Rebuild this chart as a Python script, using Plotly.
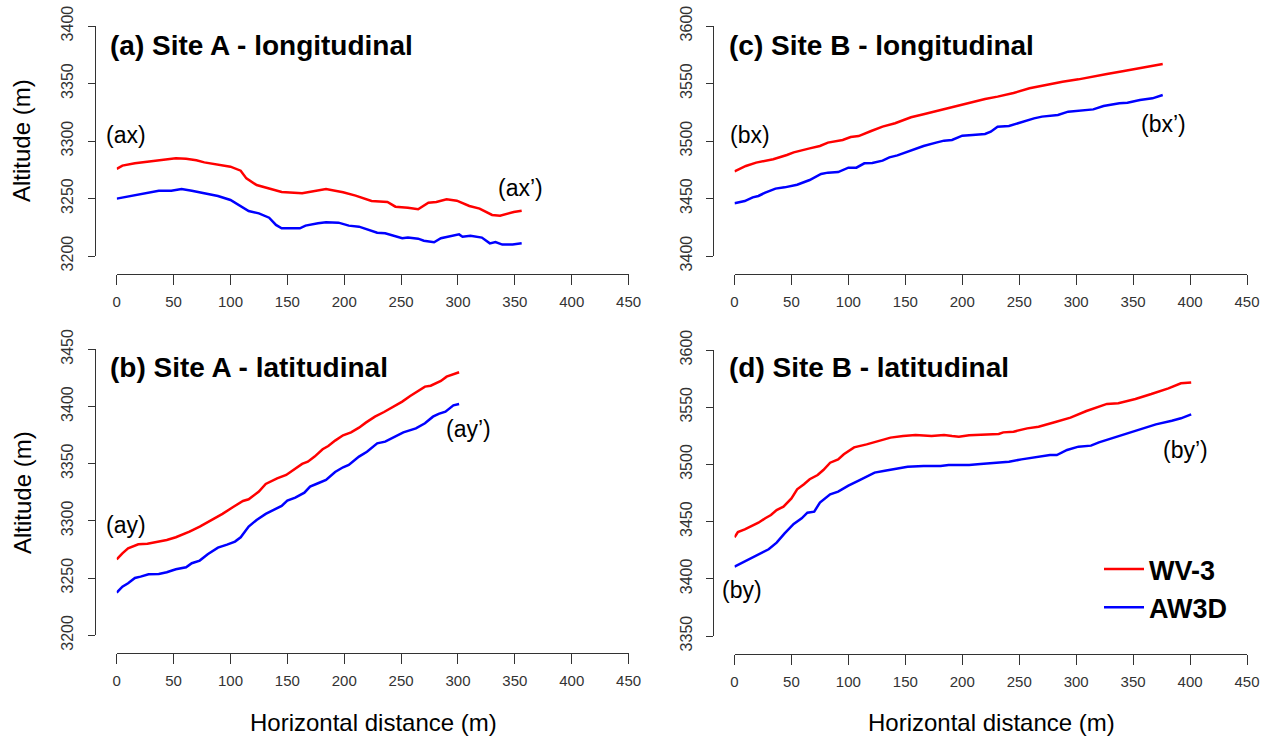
import plotly.graph_objects as go

W, H = 1269, 740

# ---------------- data ----------------
# Panel (a) Site A - longitudinal
a_wv3_x = [0, 5, 16, 27, 41, 52, 61, 70, 77, 91, 100, 109, 114, 123, 134, 145, 163, 174, 184, 199, 210, 224, 238, 245, 256, 265, 274, 281, 290, 299, 310, 319, 330, 337, 344, 349, 356]
a_wv3_y = [3275.7, 3278.6, 3280.6, 3282, 3284, 3285, 3284.6, 3283.2, 3281.4, 3279.4, 3277.7, 3274.2, 3267.5, 3261.7, 3258.8, 3255.7, 3254.5, 3256.2, 3258.3, 3255.4, 3252.5, 3247.8, 3247, 3242.9, 3242, 3240.6, 3246.4, 3247, 3249.3, 3248.1, 3243.5, 3241.2, 3235.7, 3235, 3237.1, 3238.3, 3239.4]
a_aw3d_x = [0, 12, 25, 37, 48, 57, 66, 77, 89, 100, 109, 116, 125, 134, 140, 145, 161, 166, 177, 184, 195, 204, 213, 220, 229, 236, 243, 251, 256, 265, 270, 279, 285, 294, 301, 304, 311, 321, 328, 333, 339, 348, 356]
a_aw3d_y = [3249.9, 3252.2, 3255.1, 3256.8, 3256.8, 3258.3, 3256.8, 3254.5, 3252.2, 3248.7, 3243.5, 3239.1, 3237.1, 3233.3, 3227, 3224.1, 3224.1, 3226.4, 3228.4, 3229.3, 3229, 3226.4, 3225.5, 3223.5, 3220.3, 3219.7, 3217.4, 3215.4, 3216, 3215.1, 3213.3, 3211.9, 3215.4, 3217.4, 3218.8, 3216.8, 3217.7, 3216, 3211, 3212.2, 3209.9, 3209.9, 3211]

# Panel (b) Site A - latitudinal
b_wv3_x = [0, 5, 10, 19, 27, 36, 44, 52, 64, 73, 84, 93, 102, 111, 116, 125, 131, 141, 149, 156, 163, 168, 174, 181, 186, 192, 199, 206, 213, 219, 227, 235, 242, 251, 258, 263, 271, 276, 285, 290, 299, 301]
b_wv3_y = [3266.4, 3271.7, 3276, 3279.5, 3280.1, 3281.9, 3283.3, 3285.7, 3290.6, 3295, 3300.8, 3306.1, 3311.9, 3317.4, 3318.9, 3325.6, 3332.3, 3337.2, 3340.2, 3345.1, 3349.8, 3351.8, 3356.2, 3362.6, 3365.5, 3370.2, 3374.8, 3377.4, 3381.5, 3385.9, 3391.1, 3395.2, 3399.3, 3404.3, 3409.2, 3412.1, 3417.4, 3418.2, 3422.3, 3426.1, 3429.6, 3429.9]
b_aw3d_x = [0, 5, 10, 16, 21, 28, 37, 44, 52, 61, 66, 73, 80, 89, 97, 104, 109, 116, 123, 131, 138, 145, 150, 157, 165, 170, 177, 184, 192, 199, 204, 213, 220, 229, 236, 245, 252, 263, 271, 278, 283, 289, 296, 301]
b_aw3d_y = [3237.3, 3242.5, 3245.5, 3250.1, 3251.3, 3253.3, 3253.6, 3255.1, 3257.7, 3259.4, 3263, 3265.3, 3270.8, 3276.6, 3279.3, 3281.9, 3285.7, 3295, 3300.8, 3306.1, 3309.6, 3313.1, 3317.7, 3320.4, 3324.7, 3330, 3332.9, 3335.8, 3342.8, 3346.9, 3348.9, 3356.2, 3360.5, 3367.8, 3369.3, 3373.7, 3377.4, 3380.9, 3385.3, 3391.1, 3393.5, 3395.5, 3401, 3402.2]

# Panel (c) Site B - longitudinal
c_wv3_x = [0, 10, 19, 34, 46, 52, 66, 75, 82, 95, 102, 109, 120, 130, 141, 155, 166, 181, 195, 206, 220, 231, 245, 259, 274, 288, 302, 313, 327, 342, 360, 376]
c_wv3_y = [3473.6, 3478.3, 3481.2, 3484.1, 3487.8, 3490.1, 3493.6, 3495.7, 3498.6, 3500.9, 3503.5, 3504.3, 3508.7, 3512.5, 3515.4, 3520.6, 3523.2, 3527, 3529.9, 3532.8, 3536.5, 3538.6, 3541.7, 3545.8, 3548.7, 3551.6, 3553.6, 3555.9, 3558.3, 3560.9, 3563.8, 3567]
c_aw3d_x = [0, 9, 16, 21, 27, 36, 44, 55, 66, 76, 82, 91, 100, 107, 114, 121, 130, 136, 143, 152, 159, 166, 177, 184, 191, 200, 209, 220, 225, 231, 241, 252, 263, 270, 284, 293, 302, 315, 324, 338, 345, 356, 367, 376]
c_aw3d_y = [3445.8, 3447.8, 3451, 3452.2, 3455.1, 3458.6, 3459.7, 3462, 3466.1, 3471.3, 3472.5, 3473, 3476.8, 3476.8, 3480.6, 3480.9, 3482.9, 3485.8, 3487.5, 3490.7, 3492.8, 3495.7, 3498.6, 3500.3, 3500.9, 3504.6, 3505.2, 3506.1, 3508.1, 3512.5, 3513, 3516.5, 3519.7, 3521.2, 3522.6, 3525.5, 3526.1, 3527.5, 3530.4, 3532.8, 3533.3, 3535.7, 3537.1, 3540]

# Panel (d) Site B - latitudinal
d_wv3_x = [0, 3, 9, 16, 21, 27, 32, 37, 43, 50, 55, 61, 66, 73, 78, 84, 91, 96, 102, 105, 116, 127, 137, 148, 159, 173, 184, 191, 197, 206, 220, 232, 236, 245, 257, 267, 281, 295, 309, 320, 327, 337, 352, 366, 381, 392, 401]
d_wv3_y = [3436.2, 3440.9, 3443.2, 3446.7, 3449, 3452.9, 3455.8, 3460.1, 3463.1, 3470.3, 3478.2, 3482.6, 3487, 3490.7, 3495.1, 3501.5, 3504.4, 3508.8, 3512.6, 3514.9, 3517.5, 3520.7, 3523.4, 3524.8, 3525.7, 3524.8, 3525.7, 3524.8, 3524.2, 3525.4, 3525.7, 3526.6, 3528, 3528.6, 3531.5, 3533, 3536.8, 3540.9, 3546.7, 3550.5, 3552.9, 3553.4, 3557.2, 3561.5, 3566.5, 3570.9, 3571.7]
d_aw3d_x = [0, 9, 16, 23, 30, 37, 44, 52, 59, 64, 70, 75, 84, 91, 100, 109, 116, 123, 132, 141, 152, 166, 181, 188, 206, 216, 230, 241, 252, 267, 277, 283, 292, 302, 313, 320, 331, 345, 360, 370, 384, 392, 401]
d_aw3d_y = [3410.6, 3415, 3418.8, 3422.3, 3425.8, 3431.6, 3439.7, 3447.9, 3452.9, 3457.8, 3458.7, 3466.6, 3473.8, 3476.2, 3481.4, 3485.8, 3489.3, 3492.8, 3494.5, 3496, 3498, 3498.6, 3498.6, 3499.5, 3499.5, 3500.3, 3501.5, 3502.4, 3504.4, 3506.8, 3508.2, 3508.2, 3512.6, 3515.5, 3516.4, 3519.3, 3522.8, 3526.6, 3531.5, 3535, 3538.2, 3540.3, 3543.8]

x_ticks = [0, 50, 100, 150, 200, 250, 300, 350, 400, 450]
y_ticks_a = [3200, 3250, 3300, 3350, 3400]
y_ticks_b = [3200, 3250, 3300, 3350, 3400, 3450]
y_ticks_c = [3400, 3450, 3500, 3550, 3600]
y_ticks_d = [3350, 3400, 3450, 3500, 3550, 3600]

panel_titles = ["(a) Site A - longitudinal", "(b) Site A - latitudinal",
                "(c) Site B - longitudinal", "(d) Site B - latitudinal"]
series_names = ["WV-3", "AW3D"]
point_labels = {"a": [("(ax)", 8.6, 3305), ("(ax’)", 355, 3259)],
                "b": [("(ay)", 8.6, 3296), ("(ay’)", 309, 3380)],
                "c": [("(bx)", 14, 3505), ("(bx’)", 377, 3515)],
                "d": [("(by)", 7, 3390), ("(by’)", 396, 3513)]}

# ---------------- layout geometry (pixels) ----------------
FONT = "Liberation Sans, Arial, Helvetica, sans-serif"
AXC = "#333333"
RED = "#ff0000"
BLUE = "#0000ff"


def px(x):
    return x / W


def py(y):
    return 1 - y / H


panels = {
    # xaxis, yaxis, x(0) px, x(450) px, y-axis line px, ymin px, ymax px, x-axis line py, ymin, ymax, yticks
    "a": ("x", "y", 116.7, 628.6, 94.5, 256, 26, 274, 3200, 3400, y_ticks_a),
    "b": ("x2", "y2", 116.7, 628.6, 94.5, 635.3, 349.3, 653.3, 3200, 3450, y_ticks_b),
    "c": ("x3", "y3", 734.5, 1247.0, 713.0, 256, 26, 274, 3400, 3600, y_ticks_c),
    "d": ("x4", "y4", 734.5, 1247.0, 713.0, 636, 350, 654, 3350, 3600, y_ticks_d),
}
data = {
    "a": (a_wv3_x, a_wv3_y, a_aw3d_x, a_aw3d_y),
    "b": (b_wv3_x, b_wv3_y, b_aw3d_x, b_aw3d_y),
    "c": (c_wv3_x, c_wv3_y, c_aw3d_x, c_aw3d_y),
    "d": (d_wv3_x, d_wv3_y, d_aw3d_x, d_aw3d_y),
}

fig = go.Figure()
layout = dict(
    width=W, height=H, margin=dict(l=0, r=0, t=0, b=0, pad=0, autoexpand=False),
    paper_bgcolor="white", plot_bgcolor="white",
    font=dict(family=FONT, color=AXC),
    showlegend=True,
)
annotations = []

for i, key in enumerate(["a", "b", "c", "d"]):
    xa, ya, x0p, x450p, ylp, ybot, ytop, xlp, ymin, ymax, yt = panels[key]
    xs1, ys1, xs2, ys2 = data[key]
    show = key == "d"
    fig.add_trace(go.Scatter(x=xs1, y=ys1, mode="lines", name="<b>" + series_names[0] + "</b>",
                             line=dict(color=RED, width=2.5), xaxis=xa, yaxis=ya,
                             showlegend=show, legendgroup="g1"))
    fig.add_trace(go.Scatter(x=xs2, y=ys2, mode="lines", name="<b>" + series_names[1] + "</b>",
                             line=dict(color=BLUE, width=2.5), xaxis=xa, yaxis=ya,
                             showlegend=show, legendgroup="g2"))
    xk = "xaxis" if xa == "x" else "xaxis" + xa[1:]
    yk = "yaxis" if ya == "y" else "yaxis" + ya[1:]
    layout[xk] = dict(domain=[px(x0p), px(x450p)], range=[0, 450], anchor="free",
                      position=py(xlp), showline=True, linecolor=AXC, linewidth=1,
                      ticks="outside", ticklen=10, tickcolor=AXC, tickwidth=1,
                      tickvals=x_ticks, ticktext=[str(v) for v in x_ticks],
                      tickfont=dict(size=15, color=AXC), ticklabelstandoff=4,
                      showgrid=False, zeroline=False, fixedrange=True, automargin=False)
    layout[yk] = dict(domain=[py(ybot), py(ytop)], range=[ymin, ymax], anchor="free",
                      position=px(ylp), showline=True, linecolor=AXC, linewidth=1,
                      ticks="outside", ticklen=7, tickcolor=AXC, tickwidth=1,
                      tickvals=yt, ticktext=[str(v) for v in yt], tickangle=-90,
                      tickfont=dict(size=16, color=AXC), ticklabelstandoff=8,
                      showgrid=False, zeroline=False, fixedrange=True, automargin=False)
    # panel title
    title_y = 45 if key in ("a", "c") else 367.5
    title_x = 108 if key in ("a", "b") else 726.7
    annotations.append(dict(text="<b>" + panel_titles[i] + "</b>", xref="paper", yref="paper",
                            x=px(title_x), y=py(title_y), xanchor="left", yanchor="middle",
                            showarrow=False, font=dict(size=28, color="black", family=FONT)))
    for (t, lx, ly) in point_labels[key]:
        annotations.append(dict(text=t, xref=xa, yref=ya, x=lx, y=ly, showarrow=False,
                                xanchor="center", yanchor="middle",
                                font=dict(size=23, color="black", family=FONT)))

# axis titles
for yc in (141, 493):
    annotations.append(dict(text="Altitude (m)", xref="paper", yref="paper", x=px(22), y=py(yc),
                            textangle=-90, showarrow=False, xanchor="center", yanchor="middle",
                            font=dict(size=24, color="black", family=FONT)))
for xc in (373, 991):
    annotations.append(dict(text="Horizontal distance (m)", xref="paper", yref="paper", x=px(xc), y=py(722),
                            showarrow=False, xanchor="center", yanchor="middle",
                            font=dict(size=24, color="black", family=FONT)))

layout["annotations"] = annotations
layout["legend"] = dict(x=px(1099), y=py(545), xanchor="left", yanchor="top",
                        bgcolor="rgba(0,0,0,0)", borderwidth=0,
                        font=dict(size=27, color="black", family=FONT),
                        tracegroupgap=9, itemwidth=40, traceorder="normal")
fig.update_layout(**layout)

fig.write_html("out.html", config={"displayModeBar": False},
               post_script="document.body.style.margin='0';document.body.style.overflow='hidden';")
